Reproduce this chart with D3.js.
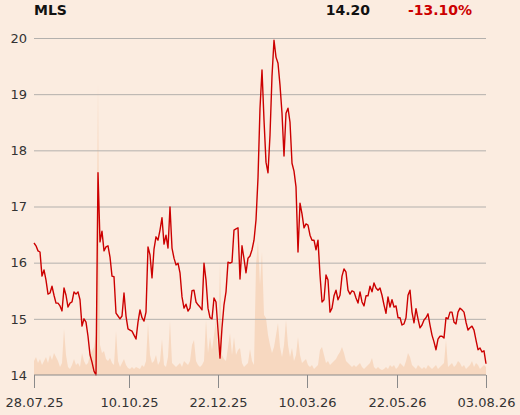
<!DOCTYPE html>
<html>
<head>
<meta charset="utf-8">
<script src="https://cdn.jsdelivr.net/npm/d3@7"></script>
<style>
  html, body { margin: 0; padding: 0; background: #fbece0; }
  svg { display: block; }
  text { font-family: "DejaVu Sans", sans-serif; }
</style>
</head>
<body>
<script>
const ticker = "MLS";
const lastPrice = "14.20";
const changePct = "-13.10%";

const yTicks = [14, 15, 16, 17, 18, 19, 20];
const xTickIndex = [0, 47.5, 92, 136.5, 181.5, 226];
const xTickLabels = ["28.07.25", "10.10.25", "22.12.25", "10.03.26", "22.05.26", "03.08.26"];

const prices = [
16.35,16.30,16.21,16.19,15.76,15.87,15.69,15.44,15.46,15.58,
15.42,15.28,15.28,15.23,15.14,15.55,15.42,15.21,15.28,15.30,
15.48,15.44,15.48,15.34,14.87,15.00,14.94,14.69,14.36,14.23,
14.07,14.00,17.60,16.37,16.56,16.21,16.28,16.30,16.10,15.76,
15.75,15.10,15.05,15.00,15.05,15.46,15.05,14.82,14.80,14.78,
14.71,14.64,14.94,15.16,15.02,14.96,15.12,16.28,16.14,15.73,
16.24,16.46,16.40,16.58,16.80,16.33,16.49,16.26,16.99,16.26,
16.08,15.96,15.99,15.82,15.39,15.19,15.26,15.14,15.19,15.50,
15.51,15.30,15.25,15.21,15.16,15.99,15.69,15.19,15.02,15.00,
15.37,15.30,14.80,14.30,14.84,15.25,15.48,16.01,15.99,16.01,
16.58,16.60,16.62,15.71,16.30,16.07,15.82,16.08,16.12,16.23,
16.40,16.76,17.51,18.75,19.43,18.54,17.79,17.60,18.27,19.32,
19.96,19.66,19.55,19.16,18.66,17.90,18.66,18.75,18.50,17.77,
17.63,17.35,16.19,17.06,16.87,16.62,16.69,16.67,16.49,16.40,
16.40,16.23,16.40,15.78,15.30,15.34,15.78,15.69,15.12,15.19,
15.41,15.51,15.34,15.42,15.76,15.89,15.83,15.51,15.44,15.50,
15.48,15.37,15.28,15.48,15.30,15.23,15.41,15.41,15.58,15.48,
15.64,15.55,15.51,15.55,15.42,15.25,15.10,15.39,15.21,15.34,
15.21,15.23,15.02,15.02,14.89,14.91,15.02,15.42,15.51,15.12,
14.93,15.18,15.00,14.84,14.89,14.98,15.02,15.09,14.89,14.71,
14.59,14.45,14.64,14.69,14.69,14.66,15.02,15.00,15.12,15.12,
14.94,14.91,15.12,15.19,15.16,15.12,14.94,14.80,14.84,14.87,
14.80,14.62,14.45,14.48,14.41,14.43,14.20
];

const volumes = [
14,18,12,16,10,14,18,12,20,15,
22,18,14,8,12,46,20,8,6,10,
16,10,12,8,22,14,10,12,20,24,
28,40,292,30,22,24,16,14,17,12,
10,44,14,8,12,16,10,7,6,8,
6,8,7,6,10,8,14,52,20,12,
14,20,10,14,36,10,8,18,54,12,
10,8,10,12,8,14,12,10,14,30,
35,14,10,8,10,14,55,22,38,25,
40,55,20,113,20,16,14,28,42,20,
38,20,25,27,12,8,10,12,26,14,
10,110,135,90,123,60,57,40,30,22,
28,40,52,28,18,30,55,30,18,27,
14,20,38,20,12,14,16,10,8,10,
6,8,10,25,28,20,12,14,10,12,
14,16,20,23,28,22,14,12,10,8,
10,8,10,12,8,6,8,10,12,17,
8,6,8,6,5,6,8,6,10,8,
10,6,8,12,10,8,14,22,18,10,
8,6,10,8,6,8,6,10,8,6,
8,10,6,8,10,12,35,8,10,12,
8,10,14,12,8,10,6,8,10,14,
8,12,10,6,8,10,8
];

(function () {
const W = 520, H = 415;
const mLeft = 34, mRight = 486, mTop = 38, mBottom = 375;

const svg = d3.select("body").append("svg").attr("width", W).attr("height", H);

const x = d3.scaleLinear().domain([0, prices.length - 1]).range([mLeft, mRight]);
const xv = d3.scaleLinear().domain([0, volumes.length - 1]).range([mLeft, mRight]);
const y = d3.scaleLinear().domain([14, 20]).range([mBottom, mTop]);
const yv = d3.scaleLinear().domain([0, 292]).range([mBottom, 83]);

// volume area
svg.append("path")
  .datum(volumes)
  .attr("fill", "#f7d8c0")
  .attr("d", d3.area().x((d, i) => xv(i)).y0(mBottom).y1(d => yv(d)));

// grid lines
const yAxis = d3.axisLeft(y).tickValues(yTicks).tickSize(-(mRight - mLeft)).tickPadding(7).tickFormat(d3.format("d"));
const gy = svg.append("g").attr("transform", `translate(${mLeft},0)`).call(yAxis);
gy.select(".domain").remove();
gy.selectAll(".tick line").attr("stroke", "#b3b0ad").attr("stroke-width", 1);
gy.selectAll(".tick").filter(d => d === 14).select("line").remove();
gy.selectAll(".tick text").attr("font-size", 13).attr("fill", "#333").attr("x", -7).style("font-family", "DejaVu Sans, sans-serif");

// price line
svg.append("path")
  .datum(prices)
  .attr("fill", "none")
  .attr("stroke", "#cc0000")
  .attr("stroke-width", 1.4)
  .attr("stroke-linejoin", "round")
  .attr("d", d3.line().x((d, i) => x(i)).y(d => y(d)));

// x axis
const xAxis = d3.axisBottom(x).tickValues(xTickIndex).tickSize(13).tickPadding(10)
  .tickFormat((d, i) => xTickLabels[i]);
const gx = svg.append("g").attr("transform", `translate(0,${mBottom})`).call(xAxis);
gx.select(".domain").attr("stroke", "#8a8a8a").attr("d", `M${mLeft},0H${mRight}`);
gx.selectAll(".tick line").attr("stroke", "#8a8a8a");
gx.selectAll(".tick text").attr("font-size", 13).attr("fill", "#333").style("font-family", "DejaVu Sans, sans-serif");

// header
svg.append("text").attr("x", 34).attr("y", 15).attr("font-size", 14).attr("font-weight", "bold").attr("fill", "#111").text(ticker);
svg.append("text").attr("x", 370).attr("y", 15).attr("text-anchor", "end").attr("font-size", 14).attr("font-weight", "bold").attr("fill", "#111").text(lastPrice);
svg.append("text").attr("x", 472).attr("y", 15).attr("text-anchor", "end").attr("font-size", 14).attr("font-weight", "bold").attr("fill", "#cc0000").text(changePct);
})();
</script>
</body>
</html>
